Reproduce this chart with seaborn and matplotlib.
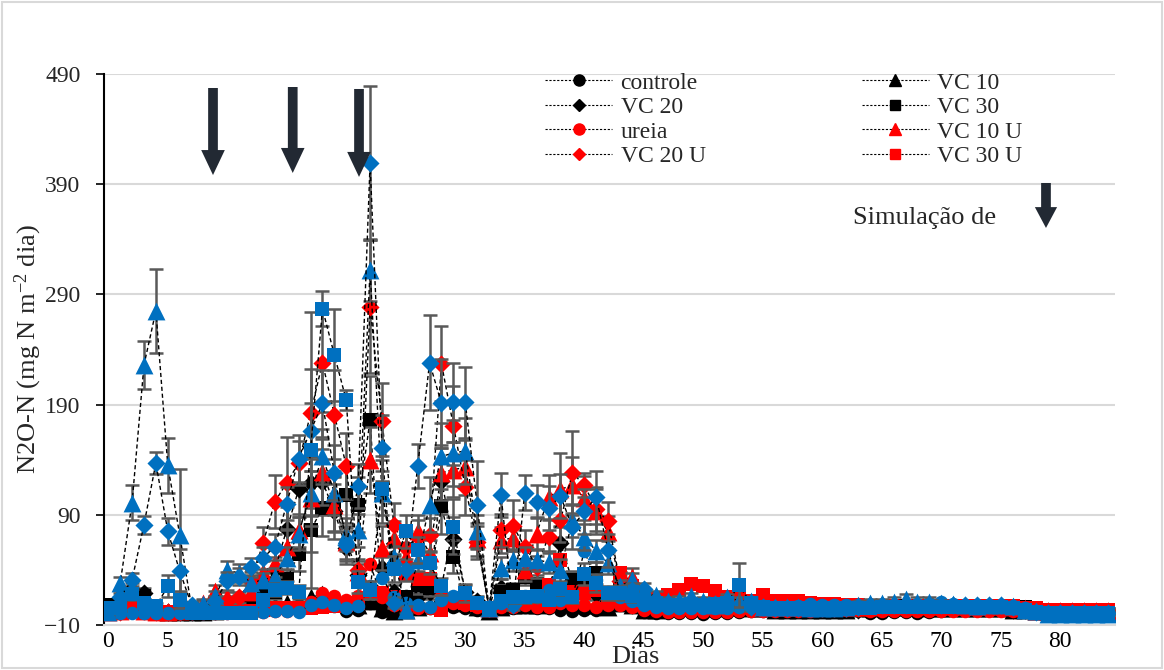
import matplotlib
matplotlib.use("Agg")
import matplotlib.pyplot as plt
from matplotlib.lines import Line2D
from matplotlib.patches import Rectangle
import seaborn as sns
import pandas as pd

# ---------------- data ----------------
dias = list(range(85))
x_ticks = [0, 5, 10, 15, 20, 25, 30, 35, 40, 45, 50, 55, 60, 65, 70, 75, 80]
y_ticks = [-10, 90, 190, 290, 390, 490]

controle = [5, 8, 10, 8, 4, 2, 2, 2, 2, 3,
            3, 5, 5, 5, 6, 5, 5, 6, 8, 7,
            3, 4, 10, 2, 5, 16, 5, 5, 8, 6,
            5, 4, 3, 5, 5, 6, 5, 5, 4, 3,
            4, 4, 5, 35, 10, 2, 1, 1, 1, 1,
            0, 1, 1, 2, 3, 3, 3, 4, 4, 5,
            6, 5, 5, 4, 1, 1, 2, 2, 1, 2,
            3, 4, 5, 4, 5, 5, 4, 3, 2, 1,
            1, 1, 1, 1, 1]
vc10 = [3, 4, 6, 5, 3, 2, 2, 2, 2, 3,
        4, 4, 5, 6, 8, 10, 12, 15, 18, 14,
        10, 8, 12, 5, 3, 4, 6, 8, 14, 12,
        10, 6, 3, 6, 8, 8, 8, 10, 12, 10,
        8, 8, 6, 10, 8, 4, 4, 5, 6, 6,
        5, 5, 6, 6, 5, 5, 4, 4, 4, 4,
        4, 4, 4, 5, 5, 6, 6, 6, 6, 5,
        5, 5, 5, 5, 5, 5, 4, 4, 3, 3,
        2, 2, 2, 2, 2]
vc20 = [4, 6, 22, 19, 3, 2, 2, 2, 3, 3,
        5, 8, 10, 22, 40, 77, 113, 119, 120, 93,
        60, 35, 20, 42, 20, 8, 15, 20, 121, 68,
        20, 12, 4, 24, 15, 12, 10, 20, 64, 30,
        20, 18, 12, 15, 8, 5, 4, 4, 5, 5,
        5, 5, 5, 5, 5, 5, 5, 5, 5, 5,
        5, 5, 5, 4, 4, 5, 5, 5, 5, 5,
        5, 5, 5, 5, 5, 5, 4, 4, 3, 2,
        2, 2, 2, 2, 2]
vc30 = [8, 5, 6, 16, 3, 2, 2, 2, 2, 2,
        3, 4, 5, 13, 20, 32, 54, 76, 96, 100,
        108, 99, 176, 10, 5, 15, 26, 24, 98, 52,
        10, 8, 4, 20, 22, 34, 27, 15, 20, 31,
        25, 37, 15, 25, 12, 8, 8, 8, 8, 8,
        8, 8, 8, 8, 8, 8, 8, 8, 8, 8,
        8, 8, 8, 6, 5, 5, 5, 5, 5, 5,
        5, 5, 5, 5, 5, 5, 6, 6, 5, 4,
        3, 3, 3, 3, 3]
ureia = [2, 2, 3, 2, 1, 1, 1, 1, 1, 1,
         1, 2, 2, 2, 3, 3, 4, 11, 19, 16,
         13, 16, 45, 15, 8, 5, 5, 5, 19, 10,
         8, 6, 4, 6, 6, 8, 6, 6, 10, 8,
         8, 6, 8, 8, 6, 4, 3, 2, 2, 2,
         2, 2, 2, 3, 3, 3, 3, 3, 3, 3,
         4, 4, 4, 4, 3, 3, 3, 3, 3, 3,
         3, 3, 3, 3, 3, 3, 3, 3, 2, 2,
         2, 2, 2, 2, 2]
vc10u = [2, 3, 5, 3, 2, 2, 3, 4, 10, 21,
         15, 12, 20, 38, 46, 61, 76, 105, 129, 99,
         65, 38, 140, 60, 69, 52, 75, 55, 128, 131,
         133, 68, 5, 67, 69, 40, 73, 106, 113, 117,
         105, 93, 74, 30, 34, 15, 10, 8, 8, 8,
         8, 8, 8, 8, 8, 6, 6, 6, 6, 6,
         6, 6, 6, 6, 6, 7, 7, 8, 8, 7,
         7, 7, 7, 7, 7, 7, 6, 5, 3, 3,
         3, 3, 3, 3, 3]
vc20u = [3, 2, 5, 3, 2, 2, 2, 3, 5, 8,
         12, 15, 30, 64, 102, 119, 137, 182, 228, 181,
         134, 40, 279, 175, 81, 60, 70, 72, 227, 171,
         115, 65, 5, 76, 80, 61, 43, 70, 85, 128,
         117, 95, 84, 30, 20, 12, 8, 7, 7, 7,
         7, 7, 6, 6, 6, 6, 6, 6, 6, 6,
         5, 5, 5, 5, 5, 6, 6, 6, 6, 6,
         6, 6, 6, 6, 6, 6, 5, 4, 3, 3,
         3, 3, 3, 3, 3]
vc30u = [3, 4, 9, 5, 2, 2, 2, 2, 2, 2,
         2, 2, 3, 4, 5, 5, 5, 5, 6, 7,
         8, 10, 19, 19, 15, 35, 32, 32, 4, 12,
         10, 8, 4, 10, 12, 12, 14, 26, 49, 20,
         19, 22, 15, 37, 25, 12, 14, 17, 22, 27,
         25, 21, 15, 14, 12, 17, 12, 12, 12, 10,
         9, 9, 8, 8, 7, 7, 7, 7, 7, 7,
         7, 7, 7, 7, 7, 7, 7, 5, 5, 4,
         4, 4, 4, 4, 4]
azul_circulo = [1, 1, 1, 1, 1, 1, 1, 1, 1, 1,
                1, 2, 2, 2, 3, 3, 2, 8, 11, 8,
                5, 7, 25, 33, 15, 10, 8, 6, 13, 16,
                19, 10, 5, 10, 12, 16, 15, 22, 13, 15,
                57, 31, 20, 15, 12, 8, 6, 5, 5, 5,
                5, 5, 5, 6, 6, 6, 6, 6, 7, 9,
                8, 8, 8, 8, 7, 8, 8, 9, 9, 10,
                11, 9, 8, 8, 8, 8, 7, 5, 2, 1,
                1, 1, 1, 1, 1]
azul_triangulo = [2, 28, 101, 226, 275, 135, 72, 6, 9, 16,
                  40, 37, 28, 31, 34, 51, 73, 110, 143, 110,
                  72, 76, 312, 110, 52, 4, 49, 99, 143, 146,
                  148, 75, 5, 42, 49, 51, 49, 47, 40, 85,
                  70, 57, 46, 25, 31, 18, 17, 12, 13, 16,
                  12, 8, 15, 12, 12, 6, 6, 6, 6, 5,
                  5, 5, 6, 8, 10, 10, 11, 14, 11, 11,
                  10, 9, 8, 7, 8, 8, 7, 4, 3, 0,
                  0, 0, 0, 0, 0]
azul_losango = [4, 15, 31, 81, 137, 75, 39, 8, 5, 12,
                30, 34, 43, 51, 61, 100, 141, 166, 191, 128,
                63, 116, 409, 151, 10, 40, 134, 228, 191, 192,
                192, 99, 5, 108, 8, 110, 102, 96, 107, 79,
                93, 106, 58, 20, 22, 23, 12, 10, 8, 8,
                8, 9, 8, 8, 6, 6, 5, 5, 5, 5,
                5, 5, 5, 6, 8, 8, 8, 8, 8, 8,
                8, 8, 8, 8, 8, 8, 6, 4, 2, 1,
                1, 1, 1, 1, 1]
azul_quadrado = [5, 5, 18, 10, 7, 25, 13, 1, 1, 1,
                 1, 1, 1, 13, 22, 24, 20, 149, 277, 235,
                 194, 29, 22, 113, 41, 75, 58, 46, 25, 79,
                 19, 10, 5, 12, 15, 15, 16, 13, 23, 15,
                 36, 28, 19, 19, 16, 13, 10, 8, 8, 9,
                 8, 9, 10, 26, 10, 6, 5, 5, 5, 5,
                 5, 5, 5, 5, 5, 6, 6, 6, 6, 6,
                 6, 6, 6, 6, 6, 6, 5, 4, 2, 1,
                 1, 1, 1, 1, 1]

# standard deviations (error bars)
err_vc20 = [2, 2, 6, 5, 1, 1, 1, 1, 1, 1,
            2, 3, 4, 8, 12, 20, 25, 30, 30, 25,
            15, 10, 6, 10, 6, 3, 5, 6, 30, 20,
            6, 4, 2, 8, 5, 4, 4, 6, 15, 8,
            6, 5, 4, 4, 3, 2, 2, 2, 2, 2,
            2, 2, 2, 2, 2, 2, 2, 2, 2, 2,
            2, 2, 2, 2, 2, 2, 2, 2, 2, 2,
            2, 2, 2, 2, 2, 2, 2, 2, 2, 2,
            2, 2, 2, 2, 2]
err_vc30 = [2, 2, 2, 5, 1, 1, 1, 1, 1, 1,
            1, 1, 2, 5, 6, 8, 15, 20, 25, 25,
            25, 25, 40, 4, 2, 5, 8, 8, 25, 15,
            4, 3, 2, 6, 6, 8, 8, 5, 6, 8,
            8, 10, 5, 8, 4, 3, 3, 3, 3, 3,
            2, 2, 2, 2, 2, 2, 2, 2, 2, 2,
            2, 2, 2, 2, 2, 2, 2, 2, 2, 2,
            2, 2, 2, 2, 2, 2, 2, 2, 2, 2,
            2, 2, 2, 2, 2]
err_vc10u = [1, 1, 2, 1, 1, 1, 1, 2, 3, 5,
             5, 5, 6, 10, 12, 15, 15, 25, 30, 25,
             15, 10, 30, 20, 15, 12, 15, 12, 25, 25,
             25, 15, 2, 12, 12, 10, 15, 20, 33, 25,
             20, 20, 15, 8, 8, 4, 3, 3, 3, 3,
             2, 2, 2, 2, 2, 2, 2, 2, 2, 2,
             2, 2, 2, 2, 2, 2, 2, 2, 2, 2,
             2, 2, 2, 2, 2, 2, 2, 2, 2, 2,
             2, 2, 2, 2, 2]
err_vc20u = [1, 1, 2, 1, 1, 1, 1, 1, 2, 3,
             4, 5, 8, 15, 24, 42, 20, 40, 45, 40,
             30, 10, 60, 35, 20, 15, 15, 15, 34, 36,
             25, 15, 2, 15, 23, 15, 10, 15, 20, 38,
             11, 20, 18, 8, 6, 4, 3, 3, 3, 3,
             2, 2, 2, 2, 2, 2, 2, 2, 2, 2,
             2, 2, 2, 2, 2, 2, 2, 2, 2, 2,
             2, 2, 2, 2, 2, 2, 2, 2, 2, 2,
             2, 2, 2, 2, 2]
err_azul_triangulo = [3, 6, 16, 22, 38, 25, 60, 5, 5, 5,
                      8, 8, 6, 6, 8, 10, 15, 20, 25, 20,
                      15, 15, 28, 20, 10, 3, 10, 25, 30, 30,
                      30, 15, 3, 10, 10, 10, 10, 10, 10, 15,
                      12, 10, 10, 6, 6, 5, 4, 3, 3, 3,
                      3, 3, 3, 3, 3, 3, 3, 3, 3, 3,
                      3, 3, 4, 4, 4, 4, 4, 4, 4, 4,
                      3, 3, 3, 3, 3, 3, 3, 2, 2, 2,
                      2, 2, 2, 2, 2]
err_azul_losango = [2, 4, 6, 8, 10, 12, 20, 3, 3, 4,
                    8, 8, 8, 10, 12, 15, 21, 25, 30, 25,
                    15, 20, 70, 30, 5, 10, 20, 43, 40, 36,
                    32, 40, 3, 20, 4, 16, 15, 20, 20, 20,
                    20, 24, 15, 6, 6, 5, 3, 3, 3, 3,
                    3, 3, 3, 3, 3, 2, 2, 2, 2, 2,
                    2, 2, 2, 2, 3, 3, 3, 3, 3, 3,
                    3, 3, 3, 3, 3, 3, 2, 2, 2, 2,
                    2, 2, 2, 2, 2]
err_azul_quadrado = [2, 2, 5, 4, 3, 10, 8, 1, 1, 1,
                     1, 1, 1, 5, 6, 6, 6, 125, 16, 42,
                     9, 10, 8, 30, 12, 15, 12, 10, 8, 25,
                     8, 5, 2, 5, 5, 5, 5, 5, 6, 5,
                     10, 8, 6, 6, 5, 4, 3, 3, 3, 3,
                     3, 3, 3, 20, 4, 3, 2, 2, 2, 2,
                     2, 2, 2, 2, 2, 2, 2, 2, 2, 2,
                     2, 2, 2, 2, 2, 2, 2, 2, 2, 2,
                     2, 2, 2, 2, 2]

# series table: (name, values, errors, colour, marker, size, in_legend)
PRETO, VERMELHO, AZUL = "#000000", "#FF0000", "#0070C0"
series = [
    ("controle", controle, None, PRETO, "o", 95, True),
    ("VC 10", vc10, None, PRETO, "^", 165, True),
    ("VC 20", vc20, err_vc20, PRETO, "D", 85, True),
    ("VC 30", vc30, err_vc30, PRETO, "s", 90, True),
    ("ureia", ureia, None, VERMELHO, "o", 95, True),
    ("VC 10 U", vc10u, err_vc10u, VERMELHO, "^", 165, True),
    ("VC 20 U", vc20u, err_vc20u, VERMELHO, "D", 85, True),
    ("VC 30 U", vc30u, None, VERMELHO, "s", 90, True),
    ("azul circulo", azul_circulo, None, AZUL, "o", 95, False),
    ("azul triangulo", azul_triangulo, err_azul_triangulo, AZUL, "^", 165, False),
    ("azul losango", azul_losango, err_azul_losango, AZUL, "D", 85, False),
    ("azul quadrado", azul_quadrado, err_azul_quadrado, AZUL, "s", 90, False),
]

# ---------------- style ----------------
sns.set_theme(style="white")
plt.rcParams["font.family"] = ["Liberation Serif", "DejaVu Serif"]
plt.rcParams["mathtext.fontset"] = "custom"
plt.rcParams["mathtext.rm"] = "Liberation Serif"
plt.rcParams["mathtext.it"] = "Liberation Serif:italic"

fig = plt.figure(figsize=(11.64, 6.70), dpi=100)
fig.patch.set_facecolor("white")
ax = fig.add_axes([104 / 1164, 45 / 670, 1011 / 1164, 551 / 670])

GRID = "#D9D9D9"
ERR = "#595959"

for k, (name, vals, errs, col, mk, sz, leg) in enumerate(series):
    df = pd.DataFrame({"dia": dias, "valor": vals})
    base = 3 + k
    if errs is not None:
        ax.errorbar(dias, vals, yerr=errs, fmt="none", ecolor=ERR,
                    elinewidth=1.8, capsize=5, capthick=1.8, zorder=base)
    sns.lineplot(data=df, x="dia", y="valor", color="black", linewidth=1.0,
                 linestyle=(0, (3, 2)), ax=ax, zorder=base + 0.2,
                 errorbar=None, sort=False)
    sns.scatterplot(data=df, x="dia", y="valor", color=col, marker=mk, s=sz,
                    linewidth=0, ax=ax, zorder=base + 0.4, legend=False)

ax.set_xlim(-0.36, 84.6)
ax.set_ylim(-10, 490)
ax.set_xticks(x_ticks)
ax.set_yticks(y_ticks)
ax.tick_params(axis="x", labelsize=17, length=0, pad=4, colors="black")
ax.tick_params(axis="y", labelsize=17, length=6, width=1.2, pad=11,
               direction="out", left=True, color="black")
ax.yaxis.grid(True, color=GRID, linewidth=1.5, zorder=0)
ax.xaxis.grid(False)
ax.set_axisbelow(True)
for s in ["top", "right"]:
    ax.spines[s].set_visible(False)
ax.spines["left"].set_color("black")
ax.spines["left"].set_linewidth(1.5)
ax.spines["bottom"].set_color(GRID)
ax.spines["bottom"].set_linewidth(1.5)

ax.set_xlabel("Dias", fontsize=19, va="center")
ax.xaxis.set_label_coords(0.526, -0.058)
ax.set_ylabel("N2O-N (mg N m$^{-2}$ dia)", fontsize=19)
ax.yaxis.set_label_coords(-0.059, 0.5)

# arrows (annotations)
SETA = "#222933"
style = "simple,head_length=18,head_width=17,tail_width=7"
for xa, ytop, ytip in [(8.8, 477.3, 398.3), (15.5, 478.2, 400.2), (21.07, 476.4, 396.6)]:
    ax.annotate("", xy=(xa, ytip), xytext=(xa, ytop),
                arrowprops=dict(arrowstyle=style, color=SETA, mutation_scale=1,
                                shrinkA=0, shrinkB=0, linewidth=0), zorder=30)
ax.annotate("", xy=(78.8, 350.3), xytext=(78.8, 391.1),
            arrowprops=dict(arrowstyle="simple,head_length=15,head_width=16,tail_width=7",
                            color=SETA, mutation_scale=1, shrinkA=0, shrinkB=0,
                            linewidth=0), zorder=30)
ax.text(62.6, 359.3, "Simulação de", fontsize=19, ha="left", va="center", zorder=30)

# legend
handles = {}
for name, vals, errs, col, mk, sz, leg in series:
    if leg:
        ms = {"o": 8, "^": 9, "D": 6.5, "s": 7}[mk]
        handles[name] = Line2D([0], [0], color="black", linewidth=0.8,
                               linestyle=(0, (2, 1.5)), marker=mk, markersize=ms,
                               markerfacecolor=col, markeredgecolor=col)
order = ["controle", "VC 20", "ureia", "VC 20 U", "VC 10", "VC 30", "VC 10 U", "VC 30 U"]
fig.legend([handles[n] for n in order], order, ncol=2, loc="upper left",
           bbox_to_anchor=(545 / 1164, 1 - 72 / 670), frameon=False, fontsize=17,
           handlelength=2.85, handletextpad=0.35, columnspacing=6.6,
           labelspacing=0.13, borderpad=0, borderaxespad=0)

# outer border
fig.patches.append(Rectangle((0.002, 0.003), 0.996, 0.994, transform=fig.transFigure,
                             fill=False, edgecolor=GRID, linewidth=1.5))

fig.savefig("out.png", dpi=100)
